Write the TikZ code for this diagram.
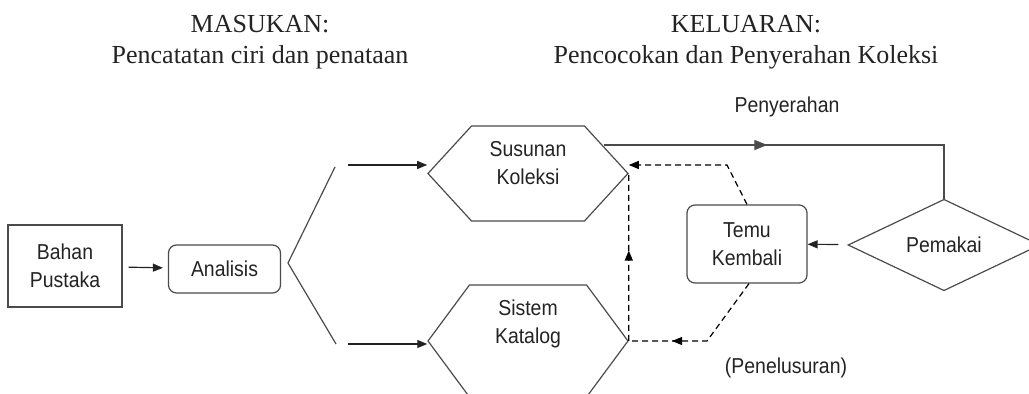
\documentclass[tikz,border=0pt]{standalone}
\usepackage{fontspec}
\setmainfont{Liberation Serif}
\newfontfamily\diagfont{Liberation Sans}[FakeStretch=0.9]
\usepackage{tikz}
\usetikzlibrary{shapes.geometric, shapes.symbols, arrows.meta, positioning, calc,
                decorations.markings}
\definecolor{linegray}{RGB}{75, 75, 75}
\definecolor{inkgray}{RGB}{35, 35, 35}
\tikzset{
  diagtext/.style={font=\diagfont\fontsize{10.8}{14}\selectfont, text=inkgray},
  box/.style={rectangle, draw=linegray, line width=0.6pt, diagtext, align=center,
              minimum width=#1, inner sep=0pt},
  box/.default=57pt,
  roundbox/.style={box=#1, rounded corners=4pt},
  roundbox/.default=56pt,
  hexbox/.style={signal, signal to=west and east, draw=linegray, line width=0.6pt,
              minimum width=100pt, inner sep=0pt},
  hexlabel/.style={diagtext, align=center},
  userbox/.style={diamond, draw=linegray, line width=0.6pt, diagtext,
              minimum width=96pt, minimum height=39pt, inner sep=0pt},
  heading/.style={align=center, font=\fontsize{13}{15.5}\selectfont, text=inkgray},
  arrow/.style={-{Triangle[length=5pt, width=4pt]}, draw=inkgray, line width=0.6pt},
  line/.style={draw=linegray, line width=0.6pt},
  dashline/.style={draw=black, line width=0.6pt, dash pattern=on 3pt off 2pt},
  midarrow/.style={postaction={decorate}, decoration={markings,
              mark=at position #1 with {\arrow{Triangle[length=5pt, width=4pt]}}}},
  bigmidarrow/.style={postaction={decorate}, decoration={markings,
              mark=at position #1 with {\arrow{Triangle[length=6.5pt, width=5pt]}}}},
}
\begin{document}
\begin{tikzpicture}[x=0.5pt, y=-0.5pt]
  \useasboundingbox (0,0) rectangle (1029,394);
  % Headings
  \node[heading] (masuk) at (260,42) {MASUKAN:\\Pencatatan ciri dan penataan};
  \node[heading] (keluar) at (746,42) {KELUARAN:\\Pencocokan dan Penyerahan Koleksi};
  % Input side
  \node[box, minimum height=41pt] (bahan) at (65,266) {Bahan\\Pustaka};
  \node[roundbox, minimum height=24pt] (analisis) at (224.5,269) {Analisis};
  \draw[arrow, shorten <=3pt, shorten >=2.5pt] (bahan) -- (analisis);
  \coordinate (fk) at (288,263);
  \coordinate (fku) at (335,167);
  \coordinate (fkl) at (336,344);
  \draw[line] (fku) -- (fk) -- (fkl);
  % Collection and catalogue
  \node[hexbox, minimum height=47.5pt, signal pointer angle=95,
        label={[hexlabel, yshift=5pt]center:{Susunan\\Koleksi}}] (sus) at (528,173.5) {};
  \node[hexbox, minimum height=56pt, signal pointer angle=107,
        label={[hexlabel, yshift=8.5pt]center:{Sistem\\Katalog}}] (sis) at (528,341) {};
  \coordinate (fu) at (348,165);
  \coordinate (fl) at (348,344);
  \draw[arrow] (fu) -- (fu -| sus.west);
  \draw[arrow] (fl) -- (fl -| sis.west);
  % Output side
  \node[roundbox=60pt, minimum height=39pt] (temu) at (747,244) {Temu\\Kembali};
  \node[userbox] (pem) at (944,245) {Pemakai};
  \draw[arrow, shorten <=5pt] (pem) -- (temu);
  \coordinate (pny) at (604,145);
  \draw[line, bigmidarrow=0.415] (pny) -- (pny -| pem.north) -- (pem.north);
  \node[diagtext] (pnylbl) at (787,107) {Penyerahan};
  % Search path
  \coordinate (tk) at (727,165);
  \coordinate (bk) at (707,341);
  \draw[dashline, -{Triangle[length=5pt, width=4pt]}] (temu.north) -- (tk) -- (tk -| sus.east);
  \draw[dashline, midarrow=0.71] ([xshift=1pt]temu.south) -- (bk) -- (sis.east);
  \draw[dashline, midarrow=0.54] (sis.east) -- (sus.east);
  \node[diagtext] (pnllbl) at (786,368) {(Penelusuran)};
\end{tikzpicture}
\end{document}
